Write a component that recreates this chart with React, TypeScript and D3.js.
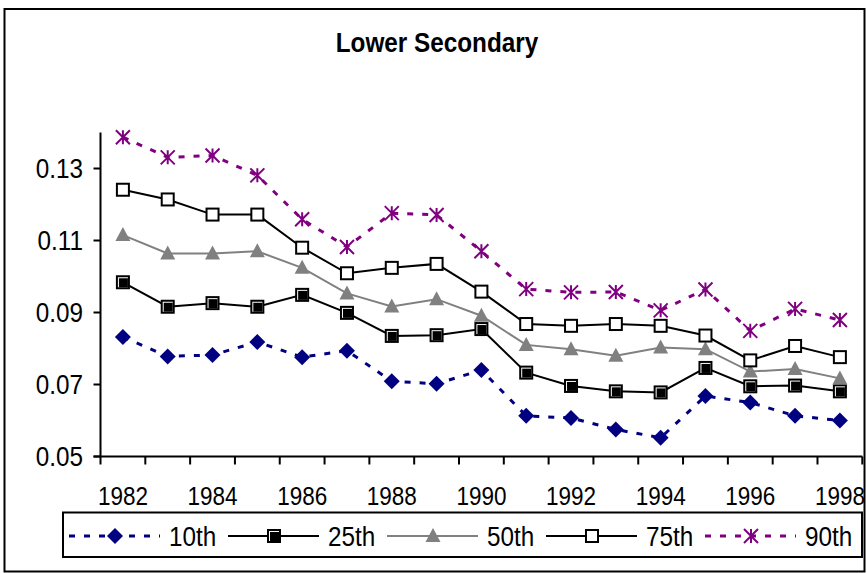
import { useEffect, useRef } from "react"
import * as d3 from "d3"

const years = [1982, 1983, 1984, 1985, 1986, 1987, 1988, 1989, 1990, 1991, 1992, 1993, 1994, 1995, 1996, 1997, 1998]

const p10 = [0.0832, 0.0778, 0.0782, 0.0818, 0.0776, 0.0794, 0.0709, 0.0702, 0.074, 0.0613, 0.0607, 0.0575, 0.0552, 0.0668, 0.065, 0.0613, 0.06]
const p25 = [0.0984, 0.0916, 0.0926, 0.0916, 0.0949, 0.0899, 0.0835, 0.0837, 0.0854, 0.0733, 0.0696, 0.0681, 0.0678, 0.0746, 0.0695, 0.0697, 0.0681]
const p50 = [0.1115, 0.1064, 0.1064, 0.107, 0.1024, 0.0953, 0.0917, 0.0937, 0.0891, 0.081, 0.0798, 0.078, 0.0803, 0.0798, 0.0736, 0.0743, 0.0717]
const p75 = [0.1241, 0.1214, 0.1172, 0.1172, 0.108, 0.1009, 0.1024, 0.1035, 0.0958, 0.0868, 0.0863, 0.0868, 0.0863, 0.0836, 0.0767, 0.0807, 0.0776]
const p90 = [0.1387, 0.1331, 0.1336, 0.1281, 0.1159, 0.1082, 0.1176, 0.1171, 0.107, 0.0965, 0.0956, 0.0957, 0.0906, 0.0964, 0.0849, 0.091, 0.0879]

const yTicks = [0.05, 0.07, 0.09, 0.11, 0.13]

interface Series {
  name: string
  values: number[]
  color: string
  dash: string | null
  width: number
  marker: "diamond" | "square" | "triangle" | "openSquare" | "asterisk"
}

const series: Series[] = [
  { name: "10th", values: p10, color: "#000080", dash: "6,9", width: 3, marker: "diamond" },
  { name: "25th", values: p25, color: "#000000", dash: null, width: 2, marker: "square" },
  { name: "50th", values: p50, color: "#808080", dash: null, width: 2, marker: "triangle" },
  { name: "75th", values: p75, color: "#000000", dash: null, width: 2, marker: "openSquare" },
  { name: "90th", values: p90, color: "#800080", dash: "6,9", width: 3, marker: "asterisk" },
]

const FONT = "'Liberation Sans', Arial, sans-serif"

// Excel-style text is a bit taller than it is wide; squeeze it horizontally
function label(
  g: d3.Selection<SVGGElement, unknown, null, undefined>,
  x: number, y: number, text: string, size: number, anchor: string, bold = false
) {
  g.append("text")
    .attr("transform", `translate(${x},${y}) scale(0.9,1)`)
    .attr("text-anchor", anchor)
    .attr("font-family", FONT)
    .attr("font-size", size)
    .attr("font-weight", bold ? "bold" : "normal")
    .text(text)
}

function drawMarker(g: d3.Selection<SVGGElement, unknown, null, undefined>, s: Series, x: number, y: number) {
  if (s.marker === "diamond") {
    g.append("path")
      .attr("d", `M${x},${y - 8}L${x + 8},${y}L${x},${y + 8}L${x - 8},${y}Z`)
      .attr("fill", s.color)
  } else if (s.marker === "square") {
    g.append("rect")
      .attr("x", x - 6).attr("y", y - 6).attr("width", 12).attr("height", 12)
      .attr("fill", "#fff").attr("stroke", "#000").attr("stroke-width", 2)
    g.append("rect")
      .attr("x", x - 4).attr("y", y - 4).attr("width", 9).attr("height", 9)
      .attr("fill", "#000")
  } else if (s.marker === "openSquare") {
    g.append("rect")
      .attr("x", x - 6).attr("y", y - 6).attr("width", 12).attr("height", 12)
      .attr("fill", "#fff").attr("stroke", "#000").attr("stroke-width", 2)
  } else if (s.marker === "triangle") {
    g.append("path")
      .attr("d", `M${x},${y - 8}L${x + 7.5},${y + 6}L${x - 7.5},${y + 6}Z`)
      .attr("fill", s.color)
  } else {
    const r = 7
    g.append("path")
      .attr("d", `M${x},${y - r}L${x},${y + r}M${x - r},${y - r}L${x + r},${y + r}M${x - r},${y + r}L${x + r},${y - r}`)
      .attr("stroke", s.color)
      .attr("stroke-width", 2)
      .attr("fill", "none")
  }
}

export default function App() {
  const svgRef = useRef<SVGSVGElement>(null)

  useEffect(() => {
    if (!svgRef.current) return
    document.body.style.margin = "0"

    const svg = d3.select(svgRef.current)
    svg.selectAll("*").remove()

    const width = 867
    const height = 573
    const plot = { left: 100.5, right: 862.3, top: 132.5, bottom: 456.5 }

    const x = d3.scaleBand<number>().domain(years).range([plot.left, plot.right])
    const cx = (yr: number) => x(yr)! + x.bandwidth() / 2
    const y = d3.scaleLinear().domain([0.05, 0.14]).range([plot.bottom, plot.top])

    svg.attr("width", width).attr("height", height).attr("viewBox", `0 0 ${width} ${height}`)

    // outer chart border
    svg.append("rect")
      .attr("x", 4.5).attr("y", 9).attr("width", 860).attr("height", 562.5)
      .attr("fill", "#fff").attr("stroke", "#000").attr("stroke-width", 2)

    // title
    const top = svg.append("g")
    label(top, 437, 52, "Lower Secondary", 27, "middle", true)

    // y axis
    const yAxis = svg.append("g")
    yAxis.append("line")
      .attr("x1", plot.left).attr("x2", plot.left).attr("y1", plot.top).attr("y2", plot.bottom)
      .attr("stroke", "#000").attr("stroke-width", 2)
    yTicks.forEach((t) => {
      yAxis.append("line")
        .attr("x1", plot.left - 7).attr("x2", plot.left).attr("y1", y(t)).attr("y2", y(t))
        .attr("stroke", "#000").attr("stroke-width", 2)
      label(yAxis, 83, y(t) + 9.5, d3.format(".2f")(t), 27, "end")
    })

    // x axis
    const xAxis = svg.append("g")
    xAxis.append("line")
      .attr("x1", plot.left - 7).attr("x2", plot.right).attr("y1", plot.bottom).attr("y2", plot.bottom)
      .attr("stroke", "#000").attr("stroke-width", 2)
    years.concat([years[years.length - 1] + 1]).forEach((yr, i) => {
      const tx = i < years.length ? x(yr)! : plot.right
      xAxis.append("line")
        .attr("x1", tx).attr("x2", tx).attr("y1", plot.bottom).attr("y2", plot.bottom + 8)
        .attr("stroke", "#000").attr("stroke-width", 2)
    })
    years.filter((yr) => yr % 2 === 0).forEach((yr) => {
      label(xAxis, cx(yr), 505, String(yr), 25, "middle")
    })

    // series lines then markers
    const line = d3.line<number>()
      .x((_, i) => cx(years[i]))
      .y((d) => y(d))

    series.forEach((s) => {
      svg.append("path")
        .attr("d", line(s.values))
        .attr("fill", "none")
        .attr("stroke", s.color)
        .attr("stroke-width", s.width)
        .attr("stroke-dasharray", s.dash ?? null)
      const mg = svg.append("g")
      s.values.forEach((v, i) => drawMarker(mg, s, cx(years[i]), y(v)))
    })

    // legend
    const legend = svg.append("g")
    legend.append("rect")
      .attr("x", 63).attr("y", 512.5).attr("width", 799).attr("height", 44.5)
      .attr("fill", "#fff").attr("stroke", "#000").attr("stroke-width", 2)
    series.forEach((s, i) => {
      const lx = 69 + i * 159
      const ly = 536
      legend.append("line")
        .attr("x1", lx).attr("x2", lx + 91).attr("y1", ly).attr("y2", ly)
        .attr("stroke", s.color)
        .attr("stroke-width", s.width)
        .attr("stroke-dasharray", s.dash ?? null)
      const mg = legend.append("g")
      drawMarker(mg, s, lx + 46, ly)
      label(legend, lx + 100, 546, s.name, 27, "start")
    })
  }, [])

  return <svg ref={svgRef} style={{ display: "block" }} />
}
